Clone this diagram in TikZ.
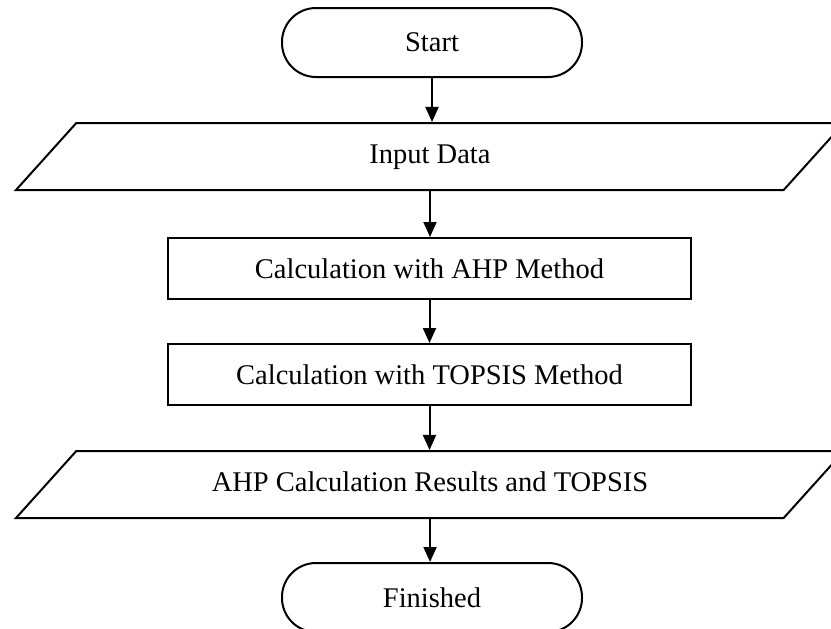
\documentclass[tikz,border=0pt]{standalone}
\usepackage{fontspec}
\setmainfont{Liberation Serif}
\usepackage{tikz}
\usetikzlibrary{shapes.geometric, arrows.meta}

\begin{document}
\begin{tikzpicture}[
  x=1pt, y=-1pt,
  terminal/.style={draw, line width=2pt, rectangle, rounded corners=34pt,
                   minimum width=300pt, minimum height=69pt},
  inout/.style={draw, line width=2pt, trapezium, trapezium stretches body=true,
                trapezium left angle=48, trapezium right angle=132,
                text height=20pt, text depth=6pt, inner ysep=20.5pt,
                minimum width=828pt},
  process/.style={draw, line width=2pt, rectangle,
                  minimum width=523pt, minimum height=61pt},
  flow/.style={line width=2pt, -{Triangle[width=13pt,length=15pt]}},
  every node/.style={font=\fontsize{28.5}{32}\selectfont, inner sep=0pt},
]
  \useasboundingbox (0,0) rectangle (831,629);

  % --- nodes ---
  \node[terminal] (start)  at (432,42.5)   {Start};
  \node[inout]    (input)  at (430,156.5)  {Input Data};
  \node[process]  (ahp)    at (429.5,268.5) {Calculation with AHP Method};
  \node[process]  (topsis) at (429.5,374.5) {Calculation with TOPSIS Method};
  \node[inout]    (result) at (430,484.5)  {AHP Calculation Results and TOPSIS};
  \node[terminal] (finish) at (432,597.5)  {Finished};

  % --- connectors ---
  \draw[flow] (start.south)  -- (start.south |- input.north);
  \draw[flow] (input.south)  -- (input.south |- ahp.north);
  \draw[flow] (ahp.south)    -- (ahp.south |- topsis.north);
  \draw[flow] (topsis.south) -- (topsis.south |- result.north);
  \draw[flow] (result.south) -- (result.south |- finish.north);

\end{tikzpicture}
\end{document}
